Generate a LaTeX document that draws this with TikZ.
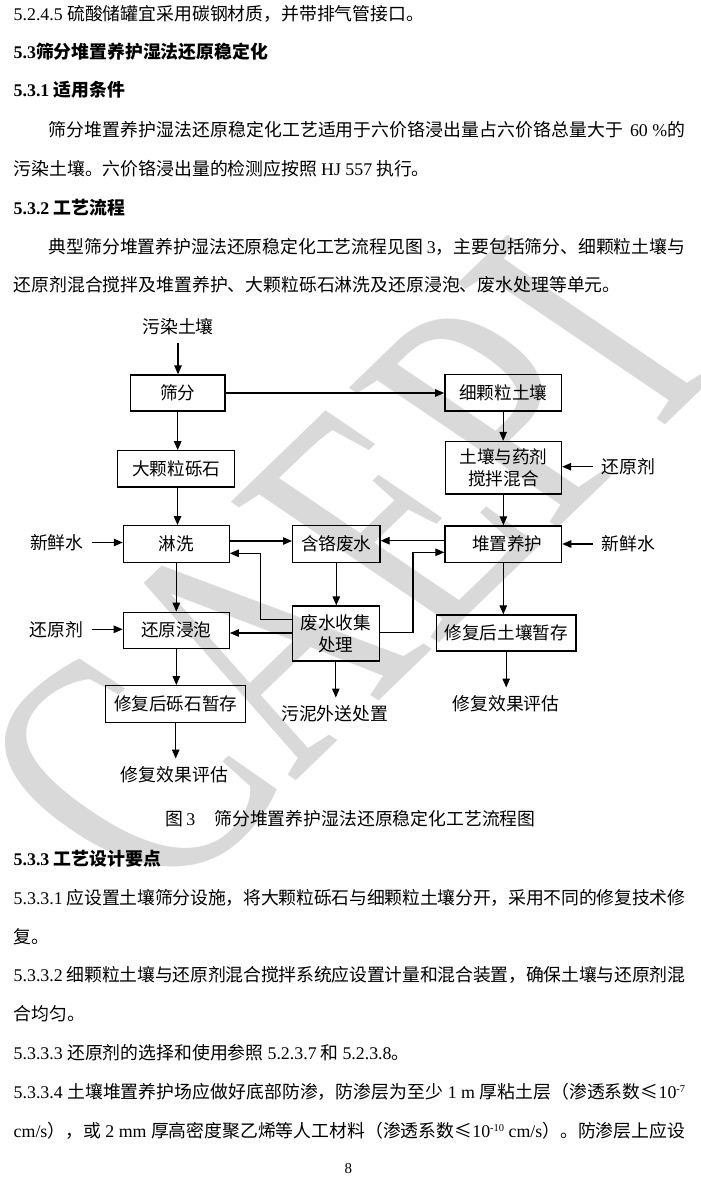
\documentclass[tikz,border=0pt]{standalone}
\usepackage{fontspec}
\usepackage{graphicx}
\setmainfont{Noto Sans CJK SC}
\newfontfamily\lat{Liberation Serif}
\usetikzlibrary{arrows.meta}
\newcommand\tn[1]{{\lat #1}}
\newcommand\supx[1]{\raisebox{6.5pt}{\fontsize{10.5pt}{12pt}\selectfont #1}}
\newcommand\gx{\hskip 0pt plus 1fil minus 0.6pt\relax}
\makeatletter
\def\zs#1{\zs@a#1\zs@end}
\def\zs@a#1{#1\zs@b}
\def\zs@b#1{\ifx#1\zs@end\else\gx#1\expandafter\zs@b\fi}
\makeatother
\definecolor{wmgray}{RGB}{217,217,217}
\begin{document}
\begin{tikzpicture}[x={(1pt,0)},y={(0,-1pt)},
  every node/.style={font=\fontsize{17.85pt}{22pt}\selectfont},
  bt/.style={anchor=west,inner sep=0pt,text height=14.8pt,text depth=1.2pt},
  lab/.style={inner sep=0pt,outer sep=8.5pt,text height=14.8pt,text depth=1.2pt},
  box/.style={draw,line width=1.3pt,inner sep=0pt,align=center,font=\fontsize{17.6pt}{22pt}\selectfont},
  arr/.style={line width=1.1pt,-{Triangle[length=9pt,width=7.5pt]}}]
\useasboundingbox (0,0) rectangle (701,1179);
\clip (0,0) rectangle (701,1179);
\fill[white] (0,0) rectangle (701,1179);
% watermark
\begin{scope}[shift={(341,568)},rotate=44,xslant=-0.21]
\node[transform shape,text=wmgray,inner sep=0pt,font=\lat\fontsize{268pt}{268pt}\selectfont] (wm) at (0,0) {\scalebox{1}[1.4]{CAEPI}};
\end{scope}
% body text top
\node[bt] (l1) at (13.5,13.3) {\tn{5.2.4.5 }硫酸储罐宜采用碳钢材质，并带排气管接口。};
\node[bt] (l2) at (13.5,51.7) {\bfseries\tn{5.3}筛分堆置养护湿法还原稳定化};
\node[bt] (l3) at (13.5,90) {\bfseries\tn{5.3.1 }适用条件};
\node[bt] (l4) at (48.7,129.3) {\makebox[636.3pt][s]{\zs{筛分堆置养护湿法还原稳定化工艺适用于六价铬浸出量占六价铬总量大于}\hskip 7pt\gx\tn{60 \%}\gx 的}};
\node[bt] (l5) at (13.5,168.3) {污染土壤。六价铬浸出量的检测应按照 \tn{HJ 557} 执行。};
\node[bt] (l6) at (13.5,207.3) {\bfseries\tn{5.3.2 }工艺流程};
\node[bt] (l7) at (48.7,246.7) {\makebox[636.3pt][s]{\zs{典型筛分堆置养护湿法还原稳定化工艺流程见图}\hskip 4pt\gx\tn{3}\gx\zs{，主要包括筛分、细颗粒土壤与}}};
\node[bt] (l8) at (13.5,285) {还原剂混合搅拌及堆置养护、大颗粒砾石淋洗及还原浸泡、废水处理等单元。};
% flowchart boxes
\node[box,minimum width=94.4pt,minimum height=36pt] (shaifen) at (177.7,393) {筛分};
\node[box,minimum width=116.7pt,minimum height=36.4pt] (xikeli) at (503.2,392.7) {细颗粒土壤};
\node[box,minimum width=117.1pt,minimum height=36.3pt] (dakeli) at (176.2,468.9) {大颗粒砾石};
\node[box,minimum width=116.3pt,minimum height=52.4pt] (jiaoban) at (503.4,467.7) {土壤与药剂\\搅拌混合};
\node[box,minimum width=105.8pt,minimum height=36.6pt] (linxi) at (176.3,544) {淋洗};
\node[box,minimum width=87.3pt,minimum height=36.6pt] (hange) at (336.3,544) {含铬废水};
\node[box,minimum width=116.6pt,minimum height=36.4pt] (duizhi) at (503.3,544.1) {\hspace*{8pt}堆置养护};
\node[box,minimum width=106pt,minimum height=36pt] (huanyuan) at (176.3,630.3) {还原浸泡};
\node[box,minimum width=87pt,minimum height=55pt] (feishui) at (335.8,633.5) {废水收集\\处理};
\node[box,minimum width=139.7pt,minimum height=36pt] (xiufutr) at (506.2,633) {修复后土壤暂存};
\node[box,minimum width=140pt,minimum height=36.6pt] (xiufuls) at (175.7,704) {修复后砾石暂存};
% labels
\node[lab] (wuran) at (178,326.7) {污染土壤};
\node[lab] (xxsL) at (56.8,542.5) {新鲜水};
\node[lab] (hyjL) at (56.7,629.3) {还原剂};
\node[lab] (hyjR) at (628.3,466.7) {还原剂};
\node[lab] (xxsR) at (628.3,544) {新鲜水};
\node[lab] (pgL) at (174.5,775) {修复效果评估};
\node[lab] (wuni) at (334.7,714) {污泥外送处置};
\node[lab] (pgR) at (506,704) {修复效果评估};
% connectors
\draw[arr] (wuran.south) -- (wuran.south |- shaifen.north);
\draw[arr] (shaifen.east) -- (shaifen.east -| xikeli.west);
\draw[arr] (shaifen.south) -- (shaifen.south |- dakeli.north);
\draw[arr] ([xshift=1.3pt]dakeli.south) -- ([xshift=1.3pt]dakeli.south |- linxi.north);
\draw[arr] (xikeli.south) -- (xikeli.south |- jiaoban.north);
\draw[arr] (jiaoban.south) -- (jiaoban.south |- duizhi.north);
\draw[arr] (hyjR.west) -- (hyjR.west -| jiaoban.east);
\draw[arr] (xxsR.west) -- (xxsR.west -| duizhi.east);
\draw[arr] (xxsL.east) -- (xxsL.east -| linxi.west);
\draw[arr] (hyjL.east) -- (hyjL.east -| huanyuan.west);
\draw[arr] ([yshift=3pt]linxi.east) -- ([yshift=3pt]linxi.east -| hange.west);
\draw[arr] ([yshift=3.4pt]duizhi.west) -- ([yshift=3.4pt]duizhi.west -| hange.east);
\draw[arr] (hange.south) -- (hange.south |- feishui.north);
\draw[arr] ([yshift=14.2pt]feishui.west) -- ++(-31.3,0) |- ([yshift=-9.3pt]linxi.east);
\draw[arr] ([yshift=0.8pt]feishui.east) -- ++(33,0) |- ([yshift=-8.2pt]duizhi.west);
\draw[arr] ([yshift=0.5pt]feishui.west) -- ([yshift=0.5pt]feishui.west -| huanyuan.east);
\draw[arr] (linxi.south) -- (linxi.south |- huanyuan.north);
\draw[arr] (duizhi.south) -- (duizhi.south |- xiufutr.north);
\draw[arr] (huanyuan.south) -- (huanyuan.south |- xiufuls.north);
\draw[arr] (xiufuls.south) -- (xiufuls.south |- pgL.north);
\draw[arr] (feishui.south) -- (feishui.south |- wuni.north);
\draw[arr] (xiufutr.south) -- (xiufutr.south |- pgR.north);
% caption
\node[bt] (cap) at (165.4,818.3) {图\hspace{3pt}\tn{3}\hspace{19pt}筛分堆置养护湿法还原稳定化工艺流程图};
% body text bottom
\node[bt] (m1) at (13.5,858.3) {\bfseries\tn{5.3.3 }工艺设计要点};
\node[bt] (m2) at (13.5,897.3) {\makebox[671.5pt][s]{\tn{5.3.3.1 }\zs{应设置土壤筛分设施，将大颗粒砾石与细颗粒土壤分开，采用不同的修复技术修}}};
\node[bt] (m3) at (13.5,936.7) {复。};
\node[bt] (m4) at (13.5,975) {\makebox[671.5pt][s]{\tn{5.3.3.2 }\zs{细颗粒土壤与还原剂混合搅拌系统应设置计量和混合装置，确保土壤与还原剂混}}};
\node[bt] (m5) at (13.5,1013.3) {合均匀。};
\node[bt] (m6) at (13.5,1052.3) {\tn{5.3.3.3 }还原剂的选择和使用参照 \tn{5.2.3.7} 和 \tn{5.2.3.8}。};
\node[bt] (m7) at (13.5,1091.7) {\makebox[671.5pt][s]{\tn{5.3.3.4 }\zs{土壤堆置养护场应做好底部防渗，防渗层为至少}\gx\tn{ 1 m }\gx\zs{厚粘土层（渗透系数≤}\tn{10\supx{-7}}}};
\node[bt] (m8) at (13.5,1130.7) {\makebox[671.5pt][s]{\tn{cm/s}\gx\zs{），或}\gx\tn{ 2 mm }\gx\zs{厚高密度聚乙烯等人工材料（渗透系数≤}\tn{10\supx{-10} cm/s}\gx\zs{）。防渗层上应设}}};
\node[inner sep=0pt,font=\lat\fontsize{15pt}{18pt}\selectfont] (pnum) at (348.3,1168.3) {8};
\end{tikzpicture}
\end{document}
